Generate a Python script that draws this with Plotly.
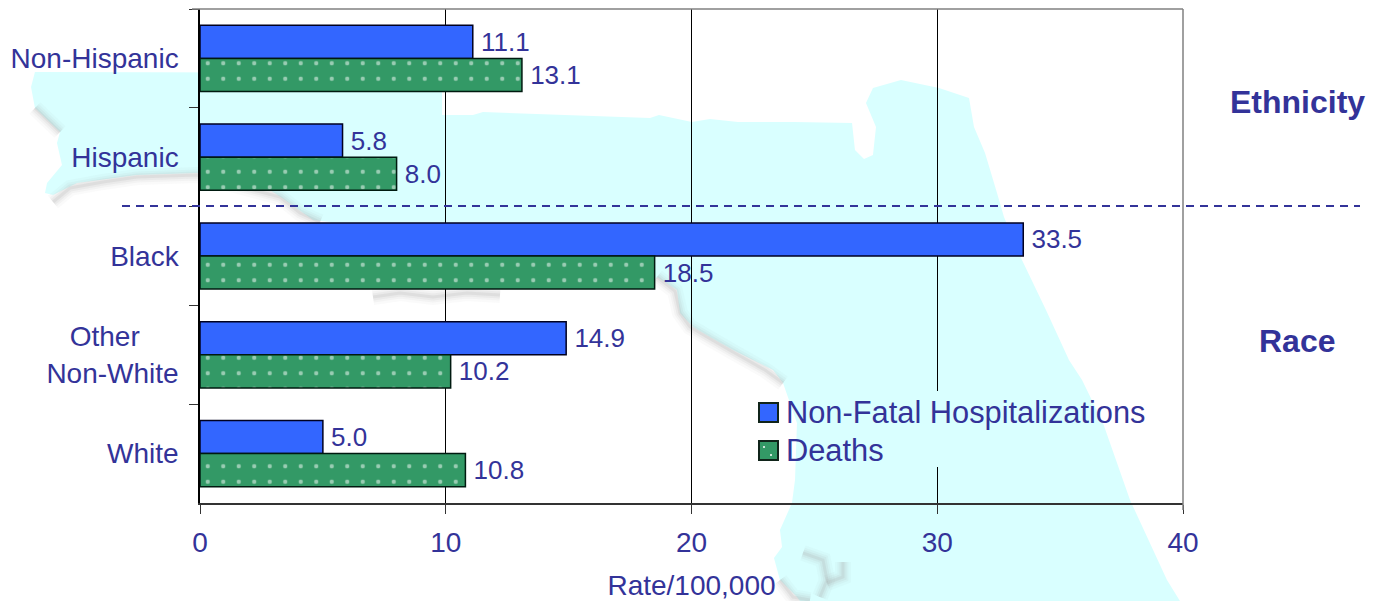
import plotly.graph_objects as go

# Data
categories = ['Non-Hispanic', 'Hispanic', 'Black', 'Other\u00a0\u00a0\u00a0\u00a0\u00a0<br>Non-White', 'White']
hospitalizations = [11.1, 5.8, 33.5, 14.9, 5.0]
deaths = [13.1, 8.0, 18.5, 10.2, 10.8]
x_ticks = [0, 10, 20, 30, 40]

TEXT = '#333399'
BLUE = '#3366FF'
GREEN = '#339966'
LAND = '#D9FFFF'
FONT = 'Liberation Sans'
W, H = 1380, 601
L, R, T, B = 200, 1183, 9, 503


def px(x):
    return (x - L) / (R - L)


def py(y):
    return (B - y) / (B - T)


def path(points, close=False):
    d = 'M' + ' L'.join(f'{px(x):.4f},{py(y):.4f}' for x, y in points)
    return d + (' Z' if close else '')


# Florida outline behind the chart, in page pixels
florida = [(35, 72), (442, 73), (442, 115), (473, 115), (483, 112), (650, 118), (659, 115),
           (692, 122), (710, 119), (738, 122), (794, 122), (852, 123), (855, 150), (864, 159),
           (873, 155), (876, 127), (866, 103), (873, 88), (901, 80), (939, 88), (969, 98),
           (974, 127), (985, 153), (997, 193), (1004, 217), (1022, 260), (1046, 310),
           (1069, 360), (1082, 380), (1103, 423), (1130, 500), (1167, 580), (1180, 601),
           (800, 601), (797, 597), (780, 580), (774, 558), (782, 547), (780, 530), (792, 503),
           (795, 480), (797, 423), (783, 383), (773, 370), (733, 350), (710, 337), (693, 327),
           (680, 313), (677, 290), (657, 277), (650, 285), (372, 288), (340, 230), (330, 222),
           (313, 220), (285, 200), (270, 190), (197, 173), (137, 175), (77, 183), (53, 195),
           (45, 193), (47, 183), (62, 165), (57, 143), (60, 132), (35, 108), (31, 87)]

# Grey coast shadow pieces
shadows = [
    [(53, 202), (70, 188), (103, 182), (137, 177), (197, 175), (280, 197), (300, 213), (320, 222)],
    [(35, 108), (60, 132)],
    [(373, 297), (400, 293), (433, 297), (467, 293), (500, 295)],
    [(657, 277), (675, 291), (680, 313), (690, 327), (707, 337), (733, 352), (765, 370), (783, 383)],
    [(803, 553), (823, 560), (827, 580), (820, 597)],
    [(843, 562), (843, 577), (827, 583)],
    [(780, 580), (793, 597), (810, 600)],
]

shapes = [dict(type='path', xref='paper', yref='paper', path=path(florida, True),
               fillcolor=LAND, line=dict(width=0), layer='below')]
for piece in shadows:
    for width, alpha in [(16, 0.05), (11, 0.08), (7, 0.11), (3, 0.16)]:
        shapes.append(dict(type='path', xref='paper', yref='paper', path=path(piece),
                           line=dict(color=f'rgba(160,160,160,{alpha})', width=width), layer='below'))


def seg(x0, y0, x1, y1, color, width, dash='solid'):
    return dict(type='line', xref='paper', yref='paper', x0=px(x0), y0=py(y0), x1=px(x1), y1=py(y1),
                line=dict(color=color, width=width, dash=dash))


def rect(x0, y0, x1, y1, fill, line_width=2):
    return dict(type='rect', xref='paper', yref='paper', x0=px(x0), y0=py(y0), x1=px(x1), y1=py(y1),
                fillcolor=fill, line=dict(color='#10241a', width=line_width))


def dot(x, y):
    return dict(type='circle', xref='paper', yref='paper', x0=px(x - 1), y0=py(y - 1), x1=px(x + 1), y1=py(y + 1),
                fillcolor='white', line=dict(width=0))


shapes += [
    seg(192, 9, R, 9, '#808080', 1.5),
    seg(R, 9, R, 510, '#808080', 1.5),
    seg(122, 206, 1360, 206, TEXT, 2, '8px,6px'),
    # the legend box hides this stretch of the 30 gridline
    seg(937, 391, 937, 467, LAND, 2),
    rect(759, 403, 778, 422, BLUE),
    rect(759, 441, 778, 460, GREEN),
    dot(764, 447),
    dot(771, 455),
]

annotations = []
for label, x, y, size in [
    ('Non-Fatal Hospitalizations', 785, 412, 30.8),
    ('Deaths', 785, 450, 30.8),
    ('<b>Ethnicity</b>', 1229, 102, 32),
    ('<b>Race</b>', 1258, 341, 32),
]:
    annotations.append(dict(xref='paper', yref='paper', x=px(x), y=py(y), text=label, showarrow=False,
                            xanchor='left', yanchor='middle', xshift=-1,
                            font=dict(family=FONT, size=size, color=TEXT)))

fig = go.Figure()
fig.add_trace(go.Bar(
    y=categories, x=hospitalizations, name='Non-Fatal Hospitalizations', orientation='h',
    marker=dict(color=BLUE, line=dict(color='#000020', width=1.5)),
    text=[f'\u2009{v:.1f}' for v in hospitalizations], textposition='outside', cliponaxis=False,
    textfont=dict(family=FONT, size=26, color=TEXT),
))
fig.add_trace(go.Bar(
    y=categories, x=deaths, name='Deaths', orientation='h',
    marker=dict(color=GREEN, line=dict(color='#001a10', width=1.5),
                pattern=dict(shape='.', size=15.5, solidity=0.06, fgcolor='white', bgcolor=GREEN)),
    text=[f'\u2009{v:.1f}' for v in deaths], textposition='outside', cliponaxis=False,
    textfont=dict(family=FONT, size=26, color=TEXT),
))

fig.update_layout(
    width=W, height=H,
    margin=dict(l=L, r=W - R, t=T, b=H - B, pad=0),
    paper_bgcolor='rgba(0,0,0,0)', plot_bgcolor='rgba(0,0,0,0)',
    barmode='group', bargap=0.33, bargroupgap=0,
    showlegend=False,
    shapes=shapes, annotations=annotations,
    font=dict(family=FONT, color=TEXT),
    xaxis=dict(range=[0, 40], tickvals=x_ticks, showgrid=True, gridcolor='black', gridwidth=1,
               zeroline=False, showline=True, linecolor='#333333', linewidth=1.5, automargin=False,
               ticks='outside', ticklen=9, tickcolor='#333333', ticklabelstandoff=5,
               tickfont=dict(family=FONT, size=28, color=TEXT),
               title=dict(text='Rate/100,000', font=dict(family=FONT, size=28, color=TEXT), standoff=19)),
    yaxis=dict(autorange='reversed', showline=True, linecolor='black', linewidth=1.5, automargin=False,
               ticks='outside', ticklen=9, tickcolor='#333333', tickson='boundaries',
               ticklabelstandoff=14, showgrid=False,
               tickfont=dict(family=FONT, size=28, color=TEXT)),
)

# drop the browser's default page margin so the plot area lands where it should
fig.write_html('out.html', config={'displayModeBar': False},
               post_script="document.body.style.margin='0';document.body.style.overflow='hidden';")
